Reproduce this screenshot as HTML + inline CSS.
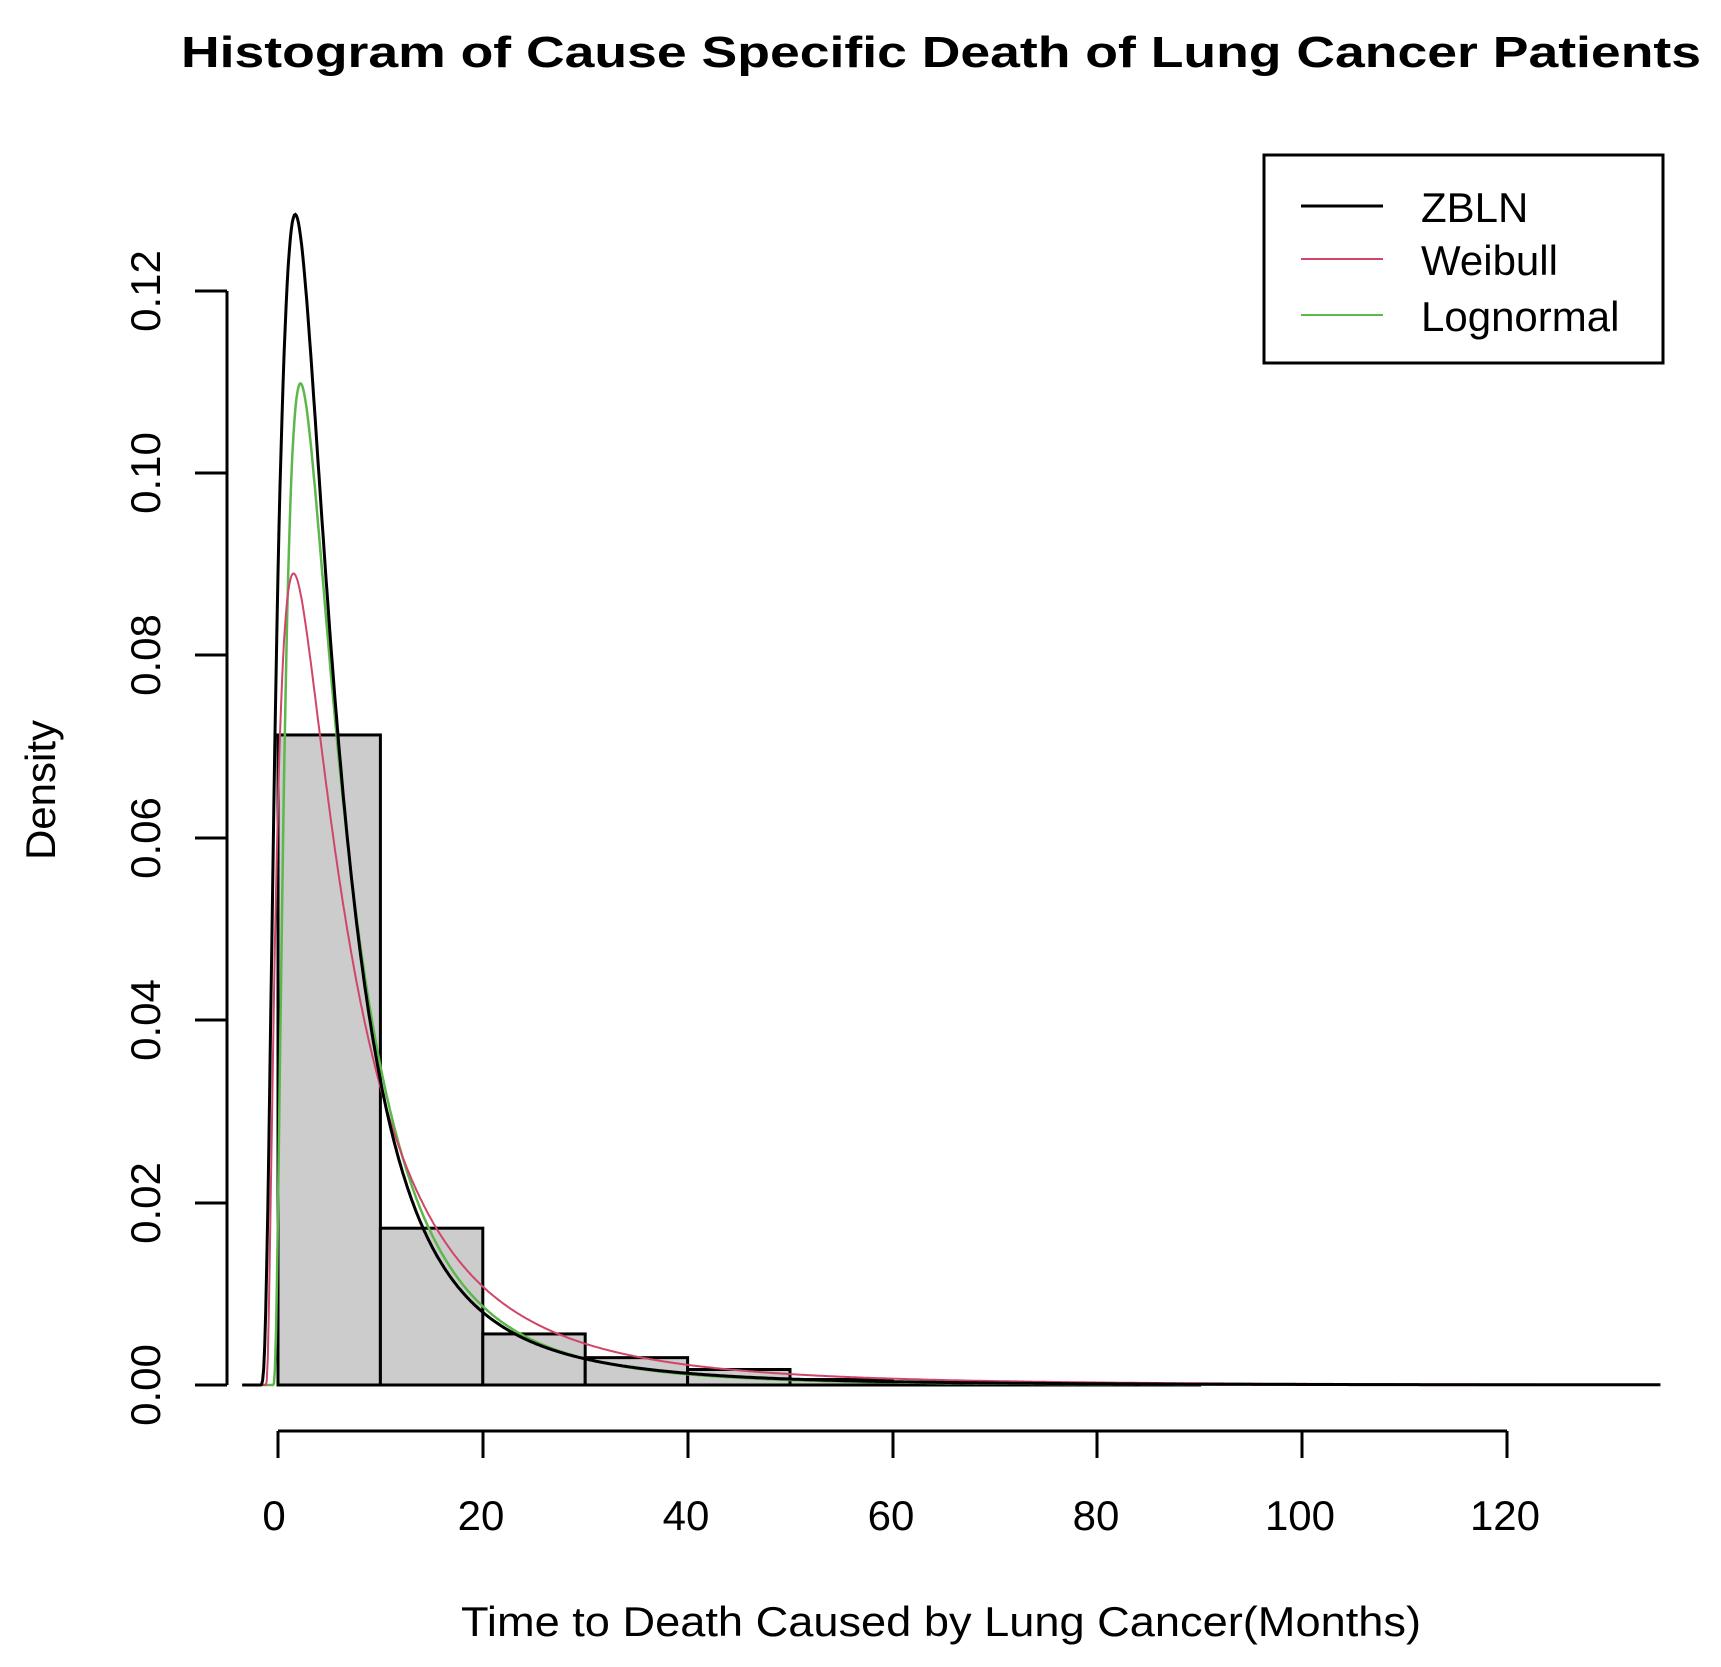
<!DOCTYPE html>
<html><head><meta charset="utf-8"><style>
html,body{margin:0;padding:0;background:#fff;}
svg{display:block;font-family:"Liberation Sans",sans-serif;}
</style></head><body>
<svg id="s" width="1721" height="1667" viewBox="0 0 1721 1667" xmlns="http://www.w3.org/2000/svg">
<text x="941" y="67" text-anchor="middle" font-size="44" font-weight="bold" textLength="1520" lengthAdjust="spacingAndGlyphs">Histogram of Cause Specific Death of Lung Cancer Patients</text>
<g id="bars" fill="#cccccc" stroke="#000" stroke-width="3"></g>
<g id="curves" fill="none"></g>
<g stroke="#000" stroke-width="3" fill="none">
<line x1="227" y1="291" x2="227" y2="1385"/>
<line x1="195" y1="291" x2="227" y2="291"/>
<line x1="195" y1="473" x2="227" y2="473"/>
<line x1="195" y1="655" x2="227" y2="655"/>
<line x1="195" y1="838" x2="227" y2="838"/>
<line x1="195" y1="1020" x2="227" y2="1020"/>
<line x1="195" y1="1203" x2="227" y2="1203"/>
<line x1="195" y1="1385" x2="227" y2="1385"/>
<line x1="278" y1="1431" x2="1507" y2="1431"/>
<line x1="278" y1="1431" x2="278" y2="1458"/>
<line x1="483" y1="1431" x2="483" y2="1458"/>
<line x1="688" y1="1431" x2="688" y2="1458"/>
<line x1="893" y1="1431" x2="893" y2="1458"/>
<line x1="1097" y1="1431" x2="1097" y2="1458"/>
<line x1="1302" y1="1431" x2="1302" y2="1458"/>
<line x1="1507" y1="1431" x2="1507" y2="1458"/>
</g>
<g font-size="42" text-anchor="middle">
<text transform="translate(160,291) rotate(-90)">0.12</text>
<text transform="translate(160,473) rotate(-90)">0.10</text>
<text transform="translate(160,655) rotate(-90)">0.08</text>
<text transform="translate(160,838) rotate(-90)">0.06</text>
<text transform="translate(160,1020) rotate(-90)">0.04</text>
<text transform="translate(160,1203) rotate(-90)">0.02</text>
<text transform="translate(160,1385) rotate(-90)">0.00</text>
<text transform="translate(55,790) rotate(-90)">Density</text>
<text x="274" y="1530">0</text>
<text x="481" y="1530">20</text>
<text x="686" y="1530">40</text>
<text x="891" y="1530">60</text>
<text x="1096" y="1530">80</text>
<text x="1300" y="1530">100</text>
<text x="1505" y="1530">120</text>
<text x="941" y="1636" textLength="960" lengthAdjust="spacingAndGlyphs">Time to Death Caused by Lung Cancer(Months)</text>
</g>
<rect x="1264" y="155" width="399" height="208" fill="#fff" stroke="#000" stroke-width="3"/>
<line x1="1301" y1="206" x2="1383" y2="206" stroke="#000" stroke-width="3"/>
<line x1="1301" y1="259" x2="1383" y2="259" stroke="#d0456a" stroke-width="2"/>
<line x1="1301" y1="315" x2="1383" y2="315" stroke="#5cb84a" stroke-width="2"/>
<g font-size="42">
<text x="1421" y="222">ZBLN</text>
<text x="1421" y="275">Weibull</text>
<text x="1421" y="331">Lognormal</text>
</g>
</svg>
<script>
var X=function(v){return 278+v*10.24;},Y=function(d){return 1385-d*9117;};
var h=[0.0713,0.0172,0.0056,0.0030,0.0017,0.0006,0.0003,0.0002,0.0001];
var b='';h.forEach(function(d,i){b+='<rect x="'+X(i*10)+'" y="'+Y(d)+'" width="102.4" height="'+(d*9117)+'"/>';});
document.getElementById('bars').innerHTML=b;
function ln(mu,s,sh){return function(x){var t=x+sh;if(t<=0)return 0;var z=(Math.log(t)-mu)/s;return Math.exp(-z*z/2)/(t*s*2.5066);};}
function path(f,col,w){var p='';for(var x=-3.5;x<=135;x+=0.1){p+=(p?'L':'M')+X(x).toFixed(1)+' '+Y(f(x)).toFixed(1);}return '<path d="'+p+'" stroke="'+col+'" stroke-width="'+w+'"/>';}
var a=ln(1.6,0.7,1.8),c=ln(2.3,0.9,0);
var zb=function(x){return 0.8*a(x)+0.35*c(x);};
document.getElementById('curves').innerHTML=path(ln(1.8,0.9,0.5),'#5cb84a',2.5)+path(ln(2.0,1.0,1.2),'#d0456a',2)+path(zb,'#000',3);
</script>
</body></html>
